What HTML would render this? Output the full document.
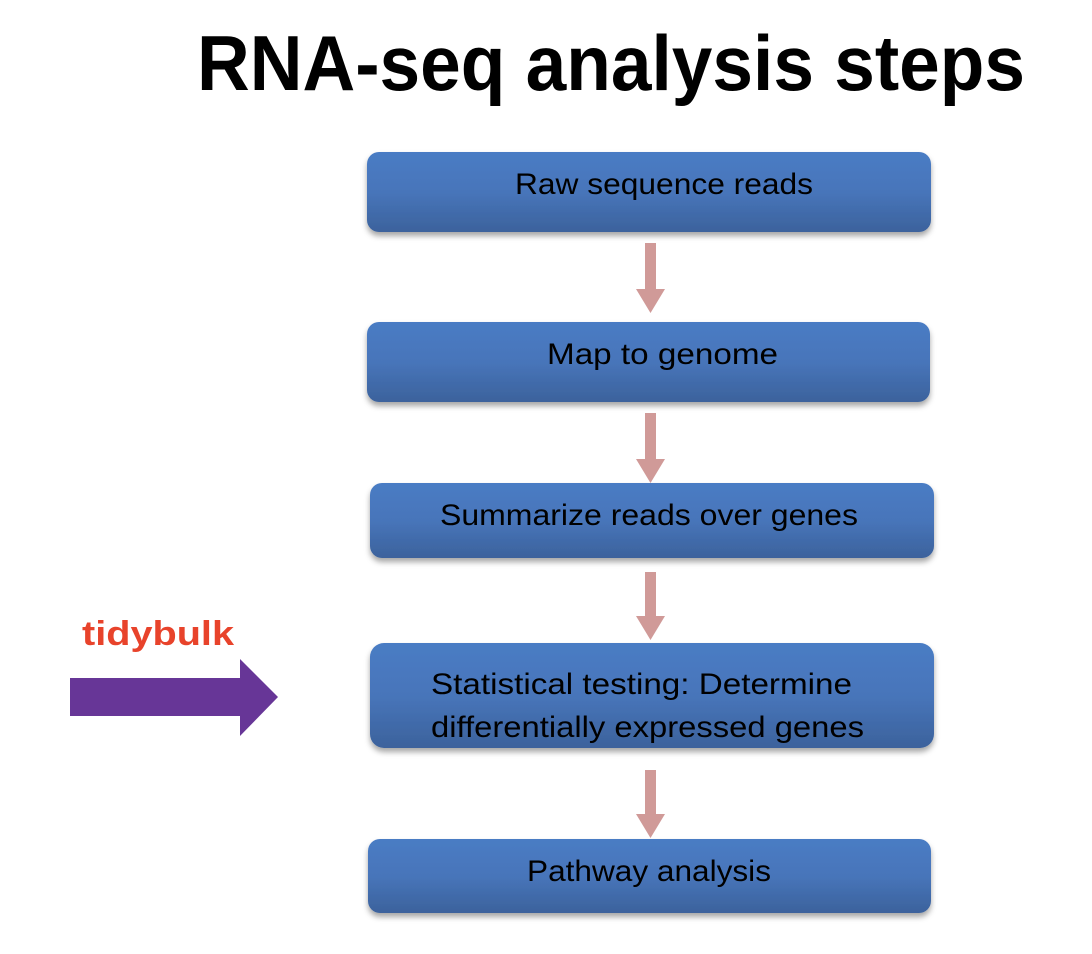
<!DOCTYPE html>
<html><head><meta charset="utf-8"><style>
html,body{margin:0;padding:0;background:#fff;width:1092px;height:954px;overflow:hidden}
</style></head><body>
<svg width="1092" height="954" viewBox="0 0 1092 954" xmlns="http://www.w3.org/2000/svg">
<defs>
<linearGradient id="g" x1="0" y1="0" x2="0" y2="1">
<stop offset="0" stop-color="#4a7cc4"/><stop offset="0.5" stop-color="#4775ba"/><stop offset="1" stop-color="#3c629c"/>
</linearGradient>
<filter id="s" x="-5%" y="-20%" width="110%" height="150%"><feDropShadow dx="0" dy="4" stdDeviation="3" flood-color="#000" flood-opacity="0.35"/></filter>
</defs>
<text x="197" y="90" font-family="Liberation Sans, sans-serif" font-weight="bold" font-size="78" textLength="828" lengthAdjust="spacingAndGlyphs">RNA-seq analysis steps</text>
<g filter="url(#s)" fill="url(#g)">
<rect x="367" y="152" width="564" height="80" rx="12"/>
<rect x="367" y="322" width="563" height="80" rx="12"/>
<rect x="370" y="483" width="564" height="75" rx="12"/>
<rect x="370" y="643" width="564" height="105" rx="14"/>
<rect x="368" y="839" width="563" height="74" rx="12"/>
</g>
<g fill="#d09a98">
<rect x="645" y="243" width="11" height="47"/><polygon points="636,289 665,289 650.5,313"/>
<rect x="645" y="413" width="11" height="47"/><polygon points="636,459 665,459 650.5,483"/>
<rect x="645" y="572" width="11" height="45"/><polygon points="636,616 665,616 650.5,640"/>
<rect x="645" y="770" width="11" height="45"/><polygon points="636,814 665,814 650.5,838"/>
</g>
<g font-family="Liberation Sans, sans-serif" font-size="30" fill="#000">
<text x="515" y="194" textLength="298" lengthAdjust="spacingAndGlyphs">Raw sequence reads</text>
<text x="547" y="364" textLength="231" lengthAdjust="spacingAndGlyphs">Map to genome</text>
<text x="440" y="525" textLength="418" lengthAdjust="spacingAndGlyphs">Summarize reads over genes</text>
<text x="431" y="694" textLength="421" lengthAdjust="spacingAndGlyphs">Statistical testing: Determine</text>
<text x="431" y="737" textLength="433" lengthAdjust="spacingAndGlyphs">differentially expressed genes</text>
<text x="527" y="881" textLength="244" lengthAdjust="spacingAndGlyphs">Pathway analysis</text>
</g>
<text x="82" y="645" font-family="Liberation Sans, sans-serif" font-weight="bold" font-size="34" fill="#e8432b" textLength="152" lengthAdjust="spacingAndGlyphs">tidybulk</text>
<polygon fill="#673697" points="70,678 240,678 240,659 278,697 240,736 240,716 70,716"/>
</svg>
</body></html>
